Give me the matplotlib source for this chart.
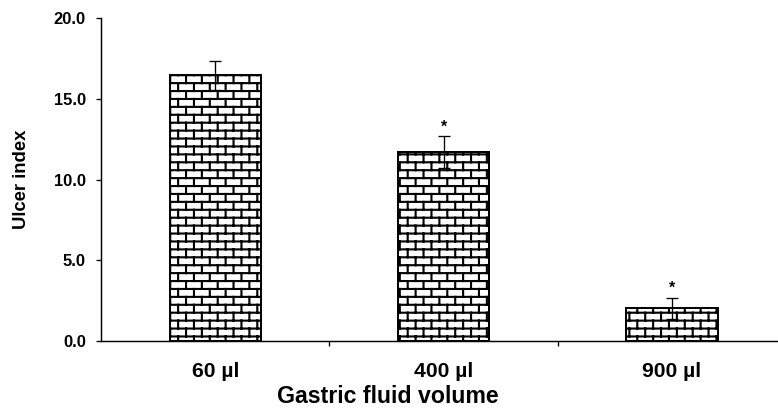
import numpy as np
import matplotlib as mpl
mpl.use("agg")
import matplotlib.pyplot as plt
import matplotlib.hatch as mhatch
from matplotlib.path import Path

mpl.rcParams['font.family'] = ['Liberation Sans', 'DejaVu Sans']
mpl.rcParams['font.weight'] = 'bold'
mpl.rcParams['hatch.linewidth'] = 1.6

# data
groups = ["60 µl", "400 µl", "900 µl"]
ulcer_index = [16.45, 11.7, 2.05]
sem = [0.9, 1.0, 0.65]
significant = [False, True, True]
y_ticks = [0.0, 5.0, 10.0, 15.0, 20.0]


# brick hatch (matplotlib has none), takes over the '+' pattern
class BrickHatch(mhatch.HatchPatternBase):
    def __init__(self, hatch, density):
        n = hatch.count('+')
        self.rows = 2 * density * n
        self.cols = density * n
        self.num_vertices = (self.rows + self.rows * self.cols
                             + self.cols) * 2

    def set_vertices_and_codes(self, vertices, codes):
        k = 0
        h = 1.0 / self.rows
        for i in range(self.rows):
            y = (i + 0.5) * h
            vertices[k] = (0.0, y)
            vertices[k + 1] = (1.0, y)
            k += 2
            shift = 0.25 + 0.5 * (i % 2)
            for j in range(self.cols):
                xv = (j + shift) / self.cols
                vertices[k] = (xv, y)
                vertices[k + 1] = (xv, min(y + h, 1.0))
                k += 2
        # bottom half-row wraps around from the last row
        shift = 0.25 + 0.5 * ((self.rows - 1) % 2)
        for j in range(self.cols):
            xv = (j + shift) / self.cols
            vertices[k] = (xv, 0.0)
            vertices[k + 1] = (xv, 0.5 * h)
            k += 2
        codes[0::2] = Path.MOVETO
        codes[1::2] = Path.LINETO


mhatch._hatch_types = [BrickHatch]

DPI = 95
fig = plt.figure(figsize=(778 / DPI, 410 / DPI), dpi=DPI)
ax = fig.add_axes([0.130, 0.168, 0.870, 0.788])

x = np.arange(len(groups))
ax.bar(x, ulcer_index, width=0.40, color="white", edgecolor="black",
       linewidth=1.5, hatch="+", zorder=2)
ax.errorbar(x, ulcer_index, yerr=sem, fmt="none", ecolor="black",
            elinewidth=1.0, capsize=4.5, capthick=1.0, zorder=3)

for xi, yi, err, sig in zip(x, ulcer_index, sem, significant):
    if sig:
        ax.text(xi, yi + err + 0.55, "*", ha="center", va="center",
                fontsize=12)

ax.set_xlim(-0.5, 2.465)
ax.set_ylim(0, 20)

ax.set_xticks(x)
ax.set_xticklabels(groups, fontsize=16, fontweight="bold")
ax.set_xticks([0.5, 1.5], minor=True)
ax.tick_params(axis="x", which="major", length=0, pad=16)
ax.tick_params(axis="x", which="minor", length=3.5, width=1.0,
               direction="out")

ax.set_yticks(y_ticks)
ax.set_yticklabels([f"{t:.1f}" for t in y_ticks], fontsize=12.5,
                   fontweight="bold")
ax.tick_params(axis="y", length=3.5, width=1.0, direction="out", pad=8)

ax.set_xlabel("Gastric fluid volume", fontsize=17.5, fontweight="bold")
ax.xaxis.set_label_coords(0.424, -0.137)
ax.set_ylabel("Ulcer index", fontsize=14, fontweight="bold", labelpad=18)

for side in ["top", "right"]:
    ax.spines[side].set_visible(False)
for side in ["left", "bottom"]:
    ax.spines[side].set_linewidth(1.1)

fig.savefig("out.png", dpi=DPI)
